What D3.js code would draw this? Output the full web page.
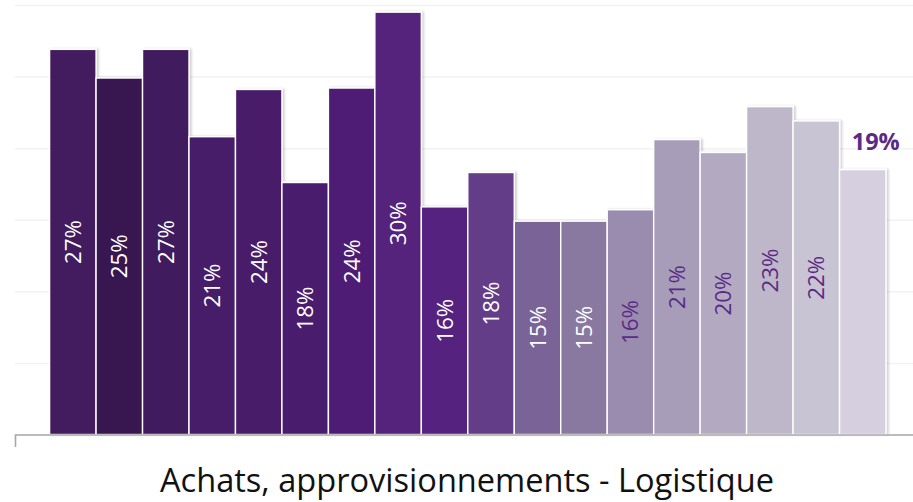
<!DOCTYPE html>
<html>
<head>
<meta charset="utf-8">
<script src="https://cdn.jsdelivr.net/npm/d3@7"></script>
<style>
  body { margin: 0; background: #fff; }
  svg { display: block; }
</style>
</head>
<body>
<div id="chart"></div>
<script>
// values (percent)
var categories = ["1","2","3","4","5","6","7","8","9","10","11","12","13","14","15","16","17","18"];
var values = [26.9, 24.9, 26.9, 20.8, 24.1, 17.6, 24.2, 29.5, 15.9, 18.3, 14.9, 14.9, 15.7, 20.6, 19.7, 22.9, 21.9, 18.5];
var colors = ["#421a5e","#37134f","#411a5e","#461b68","#481c6b","#4a1d6e","#4f1f74","#55207c","#57227f","#633e88","#7a6497","#8978a0","#9a8cae","#a79db8","#b3aac2","#beb7c9","#c9c4d3","#d5cfdf"];
var gridTicks = [0, 5, 10, 15, 20, 25, 30];
var title = "Achats, approvisionnements - Logistique";

var W = 913, H = 502;
var baseY = 434.5, topY = 5;
var labelDark = "#5b2a86";

var svg = d3.select("#chart").append("svg")
    .attr("width", W)
    .attr("height", H);

var defs = svg.append("defs");
var f = defs.append("filter").attr("id", "shadow")
    .attr("x", "-10%").attr("y", "-10%").attr("width", "130%").attr("height", "120%");
f.append("feDropShadow")
    .attr("dx", 2).attr("dy", 0).attr("stdDeviation", 1.2)
    .attr("flood-color", "#000").attr("flood-opacity", 0.18);

var x = d3.scaleBand()
    .domain(categories)
    .range([49.6, 886])
    .paddingInner(0);

var y = d3.scaleLinear()
    .domain([0, 30])
    .range([baseY, topY]);

// gridlines
var grid = svg.append("g")
    .attr("transform", "translate(15,0)")
    .call(d3.axisLeft(y).tickValues(gridTicks.slice(1)).tickSize(-(W - 15)).tickFormat(""));
grid.select(".domain").remove();
grid.selectAll("line").attr("stroke", "#f2f2f2").attr("stroke-width", 1.5);

// bars
var bars = svg.append("g").attr("filter", "url(#shadow)");
bars.selectAll("rect")
    .data(values)
    .enter().append("rect")
    .attr("x", function(d, i){ return x(categories[i]); })
    .attr("y", function(d){ return y(d); })
    .attr("width", x.bandwidth())
    .attr("height", function(d){ return y(0) - y(d); })
    .attr("fill", function(d, i){ return colors[i]; })
    .attr("stroke", "#fff")
    .attr("stroke-width", 1.4);

// baseline + left tick
svg.append("path")
    .attr("d", "M15.5,447V" + (baseY + 0.5) + "H" + W)
    .attr("fill", "none")
    .attr("stroke", "#a6a6a6")
    .attr("stroke-width", 1.6);

// labels inside bars
var last = values.length - 1;
svg.append("g").selectAll("text")
    .data(values.slice(0, last))
    .enter().append("text")
    .attr("transform", function(d, i){
        var cx = x(categories[i]) + x.bandwidth() / 2;
        var cy = (y(d) + y(0)) / 2;
        return "translate(" + (cx + 8) + "," + cy + ") rotate(-90)";
    })
    .attr("text-anchor", "middle")
    .attr("font-family", "Open Sans, sans-serif")
    .attr("font-size", 22)
    .attr("textLength", 44)
    .attr("lengthAdjust", "spacingAndGlyphs")
    .attr("fill", function(d, i){ return i < 12 ? "#fff" : labelDark; })
    .text(function(d){ return Math.round(d) + "%"; });

// last bar label, outside end
svg.append("text")
    .attr("x", x(categories[last]) + x.bandwidth() / 2 + 13)
    .attr("y", y(values[last]) - 20)
    .attr("text-anchor", "middle")
    .attr("font-family", "Open Sans, sans-serif")
    .attr("font-weight", "bold")
    .attr("font-size", 24)
    .attr("textLength", 48)
    .attr("lengthAdjust", "spacingAndGlyphs")
    .attr("fill", labelDark)
    .text(Math.round(values[last]) + "%");

// category title
svg.append("text")
    .attr("x", 467)
    .attr("y", 492)
    .attr("text-anchor", "middle")
    .attr("font-family", "Open Sans, sans-serif")
    .attr("font-size", 32)
    .attr("textLength", 614)
    .attr("lengthAdjust", "spacingAndGlyphs")
    .attr("fill", "#111")
    .text(title);
</script>
</body>
</html>
